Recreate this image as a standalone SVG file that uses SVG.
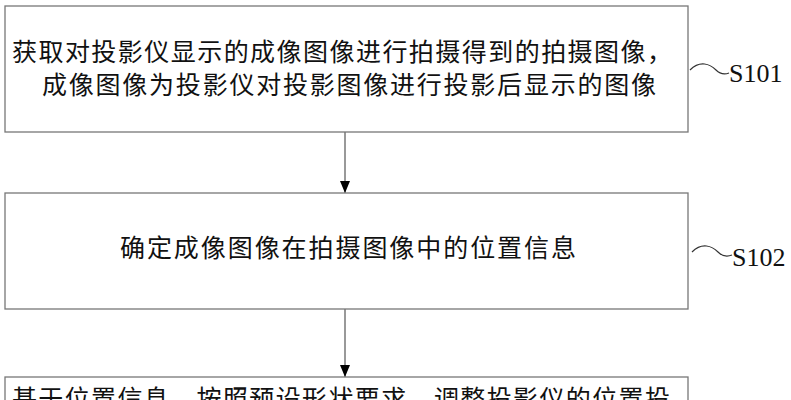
<svg xmlns="http://www.w3.org/2000/svg" width="791" height="400" viewBox="0 0 791 400">
<defs><marker id="ah" markerWidth="12" markerHeight="10" refX="12" refY="5" orient="auto" markerUnits="userSpaceOnUse"><path d="M0,0 L12,5 L0,10 Z" fill="#000"/></marker></defs>
<style>
.box{fill:#fff;stroke:#777;stroke-width:1.3}
.t{font-family:"Noto Sans CJK SC","Liberation Serif",serif;font-size:25px;fill:#111}
.l{font-family:"Liberation Serif",serif;font-size:26px;fill:#111}
.w{fill:none;stroke:#333;stroke-width:1.2}
</style>
<rect width="791" height="400" fill="#fff"/>
<g id="connectors">
<line x1="345" y1="132" x2="345" y2="193" stroke="#555" stroke-width="1.2" marker-end="url(#ah)"/>
<line x1="345" y1="309" x2="345" y2="377" stroke="#555" stroke-width="1.2" marker-end="url(#ah)"/>
</g>
<g id="s101">
<rect class="box" x="5" y="6" width="683" height="126"/>
<text class="t" x="12" y="61" textLength="660">获取对投影仪显示的成像图像进行拍摄得到的拍摄图像，</text>
<text class="t" x="42" y="94" textLength="614">成像图像为投影仪对投影图像进行投影后显示的图像</text>
<path class="w" d="M690,70 C700,60 710,64 716,70 C720,74 724,75 729,73"/>
<text class="l" x="729" y="82">S101</text>
</g>
<g id="s102">
<rect class="box" x="5" y="193" width="683" height="116"/>
<text class="t" x="120" y="257" textLength="456">确定成像图像在拍摄图像中的位置信息</text>
<path class="w" d="M692,252 C702,242 712,246 718,252 C722,256 727,257 732,255"/>
<text class="l" x="732" y="266">S102</text>
</g>
<g id="s103">
<rect class="box" x="5" y="377" width="683" height="40"/>
<text class="t" x="12" y="408" textLength="658">基于位置信息，按照预设形状要求，调整投影仪的位置投</text>
</g>
</svg>
